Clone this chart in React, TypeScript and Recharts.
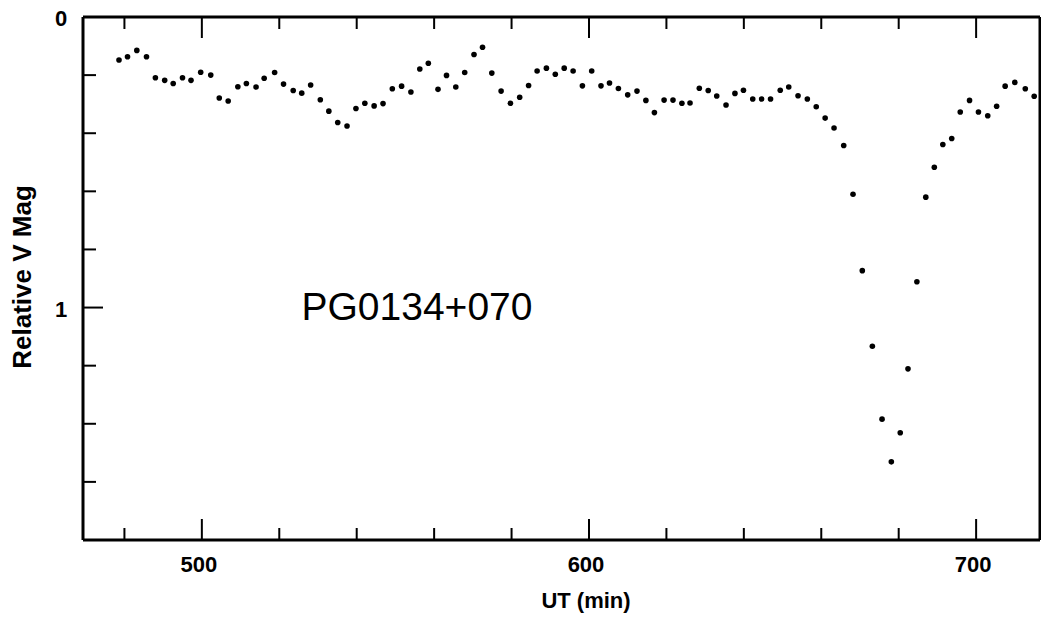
import React from 'react';
import { ScatterChart, Scatter, XAxis, YAxis } from 'recharts';

// UT (min) of each photometric point
const ut = [
  478.6, 480.8, 483.2, 485.7, 488.0, 490.4, 492.6, 495.0, 497.2, 499.7,
  502.3, 504.5, 506.8, 509.3, 511.5, 514.0, 516.1, 518.8, 521.1, 523.6,
  525.8, 528.1, 530.6, 532.8, 535.1, 537.5, 539.8, 542.1, 544.5, 546.8,
  549.2, 551.6, 554.0, 556.3, 558.5, 561.0, 563.2, 565.6, 567.9, 570.3,
  572.5, 574.9, 577.3, 579.7, 582.1, 584.4, 586.6, 589.0, 591.3, 593.6,
  595.9, 598.3, 600.7, 603.1, 605.3, 607.6, 610.0, 612.4, 614.7, 616.9,
  619.4, 621.7, 624.0, 626.1, 628.5, 630.8, 633.0, 635.4, 637.7, 639.9,
  642.3, 644.6, 646.9, 649.4, 651.6, 654.0, 656.4, 658.7, 661.0, 663.3,
  665.8, 668.2, 670.6, 673.2, 675.7, 678.1, 680.4, 682.4, 684.7, 687.0,
  689.2, 691.4, 693.7, 695.9, 698.3, 700.6, 703.0, 705.3, 707.5, 710.0,
  712.7, 715.0,
];

// relative V magnitude
const vmag = [
  0.148, 0.137, 0.115, 0.137, 0.209, 0.218, 0.229, 0.209, 0.218, 0.190,
  0.200, 0.279, 0.289, 0.240, 0.229, 0.241, 0.211, 0.191, 0.231, 0.253,
  0.262, 0.234, 0.285, 0.324, 0.363, 0.375, 0.315, 0.297, 0.306, 0.298,
  0.247, 0.238, 0.258, 0.179, 0.159, 0.249, 0.201, 0.241, 0.191, 0.129,
  0.104, 0.193, 0.255, 0.297, 0.276, 0.236, 0.186, 0.176, 0.197, 0.176,
  0.186, 0.237, 0.186, 0.237, 0.227, 0.246, 0.268, 0.255, 0.287, 0.329,
  0.286, 0.286, 0.297, 0.296, 0.245, 0.253, 0.272, 0.303, 0.263, 0.252,
  0.282, 0.282, 0.282, 0.252, 0.241, 0.271, 0.282, 0.309, 0.348, 0.382,
  0.442, 0.610, 0.873, 1.133, 1.384, 1.531, 1.431, 1.211, 0.911, 0.620,
  0.517, 0.439, 0.418, 0.327, 0.287, 0.327, 0.340, 0.307, 0.238, 0.225,
  0.247, 0.273,
];

const xTicks = [480, 500, 520, 540, 560, 580, 600, 620, 640, 660, 680, 700];
const xLabelled = [500, 600, 700];
const yTicks = [0, 0.2, 0.4, 0.6, 0.8, 1, 1.2, 1.4, 1.6];
const yLabelled = [0, 1];

const objectName = 'PG0134+070';
const xTitle = 'UT (min)';
const yTitle = 'Relative V Mag';

const data = ut.map((t, i) => ({ t, mag: vmag[i] }));

const FONT = '"Liberation Sans", Arial, Helvetica, sans-serif';
const W = 1041;
const H = 624;
const PLOT_LEFT = 83;
const PLOT_RIGHT = 1040;
const PLOT_TOP = 17;
const X_DOMAIN: [number, number] = [469.3, 716.5];
const Y_DOMAIN: [number, number] = [0, 1.8];

const BottomTick = (p: any) => {
  const v = p.payload.value;
  const major = xLabelled.includes(v);
  return (
    <g>
      <line x1={p.x} y1={p.y} x2={p.x} y2={p.y - (major ? 21 : 12)} stroke="#000" strokeWidth={2} />
      {major && (
        <text x={p.x - 3} y={p.y + 32} textAnchor="middle" fontFamily={FONT} fontWeight="bold" fontSize={22} fill="#000">
          {v}
        </text>
      )}
    </g>
  );
};

const LeftTick = (p: any) => {
  const v = p.payload.value;
  const major = yLabelled.includes(v);
  return (
    <g>
      {v !== 0 && <line x1={p.x} y1={p.y} x2={p.x + (major ? 20 : 13)} y2={p.y} stroke="#000" strokeWidth={2} />}
      {major && (
        <text x={p.x - 22} y={p.y + 9} textAnchor="middle" fontFamily={FONT} fontWeight="bold" fontSize={22} fill="#000">
          {v}
        </text>
      )}
    </g>
  );
};

const RightTick = (p: any) => {
  const v = p.payload.value;
  if (v === 0) return <g />;
  const major = yLabelled.includes(v);
  return <line x1={p.x} y1={p.y} x2={p.x - (major ? 20 : 13)} y2={p.y} stroke="#000" strokeWidth={2} />;
};

const Dot = (p: any) => <circle cx={p.cx} cy={p.cy} r={2.8} fill="#000" />;

// inward ticks along the top frame, same linear mapping as the x axis
const tickX = (v: number) =>
  PLOT_LEFT + ((v - X_DOMAIN[0]) / (X_DOMAIN[1] - X_DOMAIN[0])) * (PLOT_RIGHT - PLOT_LEFT);

export default function App() {
  return (
    <div style={{ position: 'absolute', left: 0, top: 0, width: W, height: H, background: '#fff' }}>
      <ScatterChart width={W} height={H} margin={{ top: 7, right: 0, bottom: 0, left: 0 }}>
        <XAxis
          xAxisId="b"
          dataKey="t"
          type="number"
          orientation="bottom"
          domain={X_DOMAIN}
          ticks={xTicks}
          interval={0}
          height={84}
          tickSize={0}
          tickMargin={0}
          tick={<BottomTick />}
          axisLine={{ stroke: '#000', strokeWidth: 3 }}
          label={() => (
            <text x={586} y={608} textAnchor="middle" fontFamily={FONT} fontWeight="bold" fontSize={22} fill="#000">
              {xTitle}
            </text>
          )}
        />
        <XAxis
          xAxisId="t"
          dataKey="t"
          type="number"
          orientation="top"
          domain={X_DOMAIN}
          ticks={xTicks}
          height={10}
          tick={false}
          tickLine={false}
          axisLine={{ stroke: '#000', strokeWidth: 3 }}
          label={() => (
            <text x={417} y={320} textAnchor="middle" fontFamily={FONT} fontSize={39} fill="#000">
              {objectName}
            </text>
          )}
        />
        <YAxis
          yAxisId="l"
          dataKey="mag"
          type="number"
          orientation="left"
          reversed
          domain={Y_DOMAIN}
          ticks={yTicks}
          interval={0}
          width={PLOT_LEFT}
          tickSize={0}
          tickMargin={0}
          tick={<LeftTick />}
          axisLine={{ stroke: '#000', strokeWidth: 3 }}
          label={() => (
            <text
              x={31}
              y={277}
              transform="rotate(-90 31 277)"
              textAnchor="middle"
              fontFamily={FONT}
              fontWeight="bold"
              fontSize={26}
              fill="#000"
            >
              {yTitle}
            </text>
          )}
        />
        <YAxis
          yAxisId="r"
          dataKey="mag"
          type="number"
          orientation="right"
          reversed
          domain={Y_DOMAIN}
          ticks={yTicks}
          interval={0}
          width={1}
          tickSize={0}
          tickMargin={0}
          tick={<RightTick />}
          axisLine={{ stroke: '#000', strokeWidth: 3 }}
        />
        <Scatter data={data} xAxisId="b" yAxisId="l" shape={Dot} isAnimationActive={false} />
      </ScatterChart>
      <svg
        width={W}
        height={60}
        style={{ position: 'absolute', left: 0, top: 0, pointerEvents: 'none', zIndex: 2 }}
      >
        {xTicks.map((v) => (
          <line
            key={v}
            x1={tickX(v)}
            y1={PLOT_TOP}
            x2={tickX(v)}
            y2={PLOT_TOP + (xLabelled.includes(v) ? 21 : 12)}
            stroke="#000"
            strokeWidth={2}
          />
        ))}
      </svg>
    </div>
  );
}
